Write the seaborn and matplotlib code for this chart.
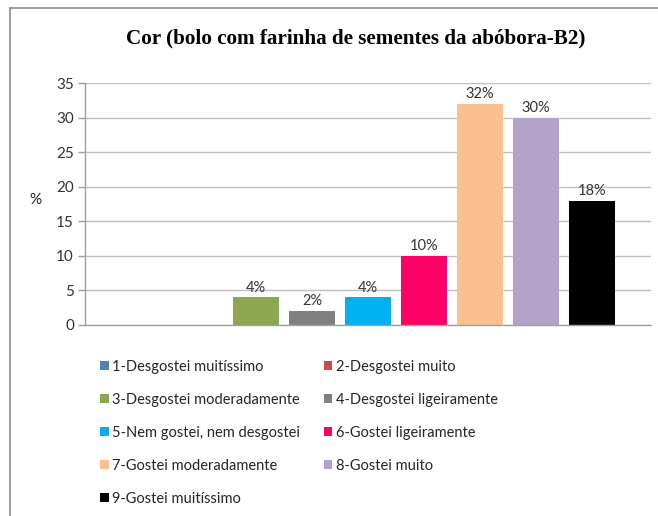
import matplotlib
matplotlib.use("Agg")
import matplotlib.pyplot as plt
import seaborn as sns
import pandas as pd
from matplotlib.lines import Line2D
from matplotlib.patches import Patch

# --- dados ---
categorias = [
    "1-Desgostei muitíssimo",
    "2-Desgostei muito",
    "3-Desgostei moderadamente",
    "4-Desgostei ligeiramente",
    "5-Nem gostei, nem desgostei",
    "6-Gostei ligeiramente",
    "7-Gostei moderadamente",
    "8-Gostei muito",
    "9-Gostei muitíssimo",
]
valores = [0, 0, 4, 2, 4, 10, 32, 30, 18]
cores = ["#4F81BD", "#C0504D", "#8DA750", "#808080", "#00B0F0",
         "#FF0066", "#FAC090", "#B3A2C7", "#000000"]
titulo = "Cor (bolo com farinha de sementes da abóbora-B2)"
yticks = [0, 5, 10, 15, 20, 25, 30, 35]

sns.set_theme(style="white")
plt.rcParams["font.family"] = ["Lato", "DejaVu Sans"]

df = pd.DataFrame({"categoria": categorias, "valor": valores})

W, H = 658, 516
fig = plt.figure(figsize=(W / 100, H / 100), dpi=100)
ax = fig.add_axes([85 / W, 1 - 325 / H, 566 / W, 242 / H])

sns.barplot(data=df, x="categoria", y="valor", hue="categoria",
            palette=cores, saturation=1, width=0.82, linewidth=0,
            legend=False, ax=ax)

ax.set_xlim(-1.05, 9.05)
ax.set_ylim(0, 35)
ax.set_yticks(yticks)
ax.set_xticks([])
ax.set_xlabel("")
ax.set_ylabel("%", rotation=0, fontsize=11, color="#222222",
              va="center", ha="center")
ax.yaxis.set_label_coords(-0.088, 0.515)

ax.yaxis.grid(True, color="#BFBFBF", linewidth=1)
ax.set_axisbelow(True)
ax.tick_params(axis="y", left=True, length=5, width=1, color="#A0A0A0",
               labelsize=11, labelcolor="#333333", pad=3)
for s in ["top", "right"]:
    ax.spines[s].set_visible(False)
for s in ["left", "bottom"]:
    ax.spines[s].set_color("#A0A0A0")
    ax.spines[s].set_linewidth(1)

# rótulos de valor
for cont, v in zip(ax.containers, valores):
    if v > 0:
        ax.bar_label(cont, labels=[f"{v}%"], padding=2, fontsize=10.5,
                     color="#333333")

# título
fig.text(356 / W, 1 - 38 / H, titulo, ha="center", va="center",
         fontsize=15.2, fontweight="bold", family="Liberation Serif",
         color="black")

# legenda em 2 colunas, ordem por linhas
handles = [Patch(facecolor=c, edgecolor="none") for c in cores]
ordem = [0, 2, 4, 6, 8, 1, 3, 5, 7]
fig.legend([handles[i] for i in ordem], [categorias[i] for i in ordem],
           loc="upper left", bbox_to_anchor=(100 / W, 1 - 360 / H),
           ncol=2, frameon=False, fontsize=10.5, handlelength=0.6,
           handleheight=0.6, handletextpad=0.25, columnspacing=1.6,
           labelspacing=1.3, borderpad=0, borderaxespad=0)

# moldura (linhas superior e esquerda)
fig.add_artist(Line2D([10 / W, 1], [1 - 8 / H, 1 - 8 / H],
                      transform=fig.transFigure, color="#8C8C8C", lw=1.2))
fig.add_artist(Line2D([10 / W, 10 / W], [0, 1 - 8 / H],
                      transform=fig.transFigure, color="#8C8C8C", lw=1.2))

fig.savefig("out.png", dpi=100)
